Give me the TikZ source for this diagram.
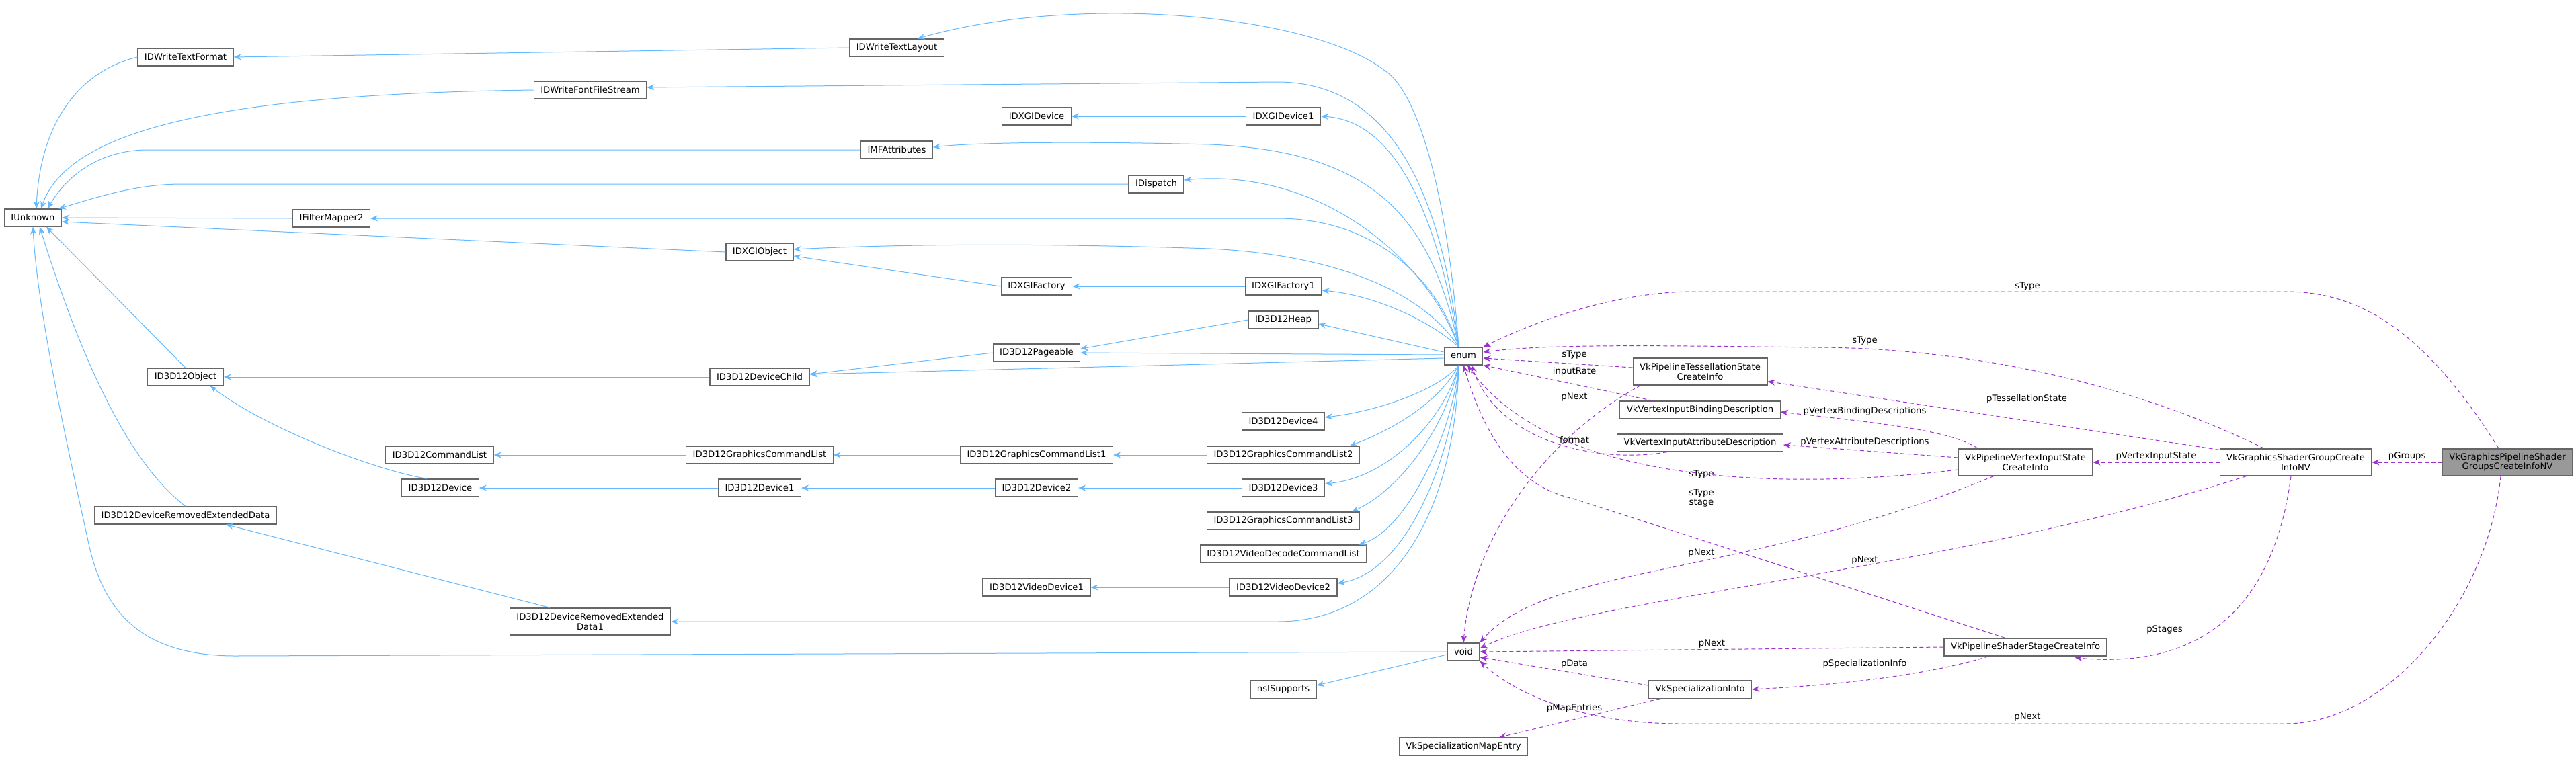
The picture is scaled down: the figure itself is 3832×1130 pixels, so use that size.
\documentclass[tikz,border=0pt]{standalone}
\usepackage{fontspec}
\setmainfont{DejaVu Sans}
\usetikzlibrary{arrows.meta, calc}
\definecolor{inhblue}{RGB}{99,184,255}
\definecolor{usepurple}{RGB}{154,50,205}
\tikzset{
  cls/.style={draw=black!60, fill=white, line width=0.6pt, font=\fontsize{6.6}{7.3}\selectfont,
    inner xsep=5pt, inner ysep=1pt, minimum height=13pt, align=center},
  cls2/.style={cls, minimum height=20pt},
  lbl/.style={font=\fontsize{6.6}{7.3}\selectfont, inner sep=1pt, align=center},
  inh/.style={draw=inhblue, line width=0.5pt, -{Stealth[length=5.5pt,width=4.5pt]}},
  use/.style={draw=usepurple, line width=0.5pt, dash pattern=on 3pt off 2pt, -{Stealth[length=5.5pt,width=4.5pt]}}
}
\begin{document}
\begin{tikzpicture}[x=0.5pt,y=-0.5pt]
\useasboundingbox (0,0) rectangle (3832,1130);

% base interfaces
\node[cls] (iunk) at (49,324) {IUnknown};
\node[cls] (fmt) at (276,85) {IDWriteTextFormat};
\node[cls] (ffs) at (878,134) {IDWriteFontFileStream};
\node[cls] (fm2) at (493,325) {IFilterMapper2};
\node[cls] (d3o) at (276,561) {ID3D12Object};
\node[cls] (cl) at (654,677) {ID3D12CommandList};
\node[cls] (dev) at (655,726) {ID3D12Device};
\node[cls] (dred) at (276,767) {ID3D12DeviceRemovedExtendedData};
\node[cls2] (dred1) at (878,925) {ID3D12DeviceRemovedExtended\\Data1};
\node[cls] (lay) at (1334,71) {IDWriteTextLayout};
\node[cls] (dxd) at (1542,173) {IDXGIDevice};
\node[cls] (dxd1) at (1909,173) {IDXGIDevice1};
\node[cls] (imf) at (1334,223) {IMFAttributes};
\node[cls] (disp) at (1720,274) {IDispatch};
\node[cls] (dxo) at (1130,375) {IDXGIObject};
\node[cls] (fac) at (1542,426) {IDXGIFactory};
\node[cls] (fac1) at (1909,426) {IDXGIFactory1};
\node[cls] (heap) at (1909,476) {ID3D12Heap};
\node[cls] (pag) at (1542,525) {ID3D12Pageable};
\node[cls] (dch) at (1130,561) {ID3D12DeviceChild};
\node[cls] (dev4) at (1909,627) {ID3D12Device4};
\node[cls] (gcl) at (1130,677) {ID3D12GraphicsCommandList};
\node[cls] (gcl1) at (1542,677) {ID3D12GraphicsCommandList1};
\node[cls] (gcl2) at (1909,677) {ID3D12GraphicsCommandList2};
\node[cls] (dev1) at (1130,726) {ID3D12Device1};
\node[cls] (dev2) at (1542,726) {ID3D12Device2};
\node[cls] (dev3) at (1909,726) {ID3D12Device3};
\node[cls] (gcl3) at (1909,775) {ID3D12GraphicsCommandList3};
\node[cls] (vdcl) at (1909,824) {ID3D12VideoDecodeCommandList};
\node[cls] (vd1) at (1542,874) {ID3D12VideoDevice1};
\node[cls] (vd2) at (1909,874) {ID3D12VideoDevice2};
\node[cls] (nss) at (1909,1026) {nsISupports};

% vulkan side
\node[cls] (enum) at (2177,530) {enum};
\node[cls] (void) at (2177,970) {void};
\node[cls] (map) at (2177,1111) {VkSpecializationMapEntry};
\node[cls] (spec) at (2529,1026) {VkSpecializationInfo};
\node[cls2] (tess) at (2529,553) {VkPipelineTessellationState\\CreateInfo};
\node[cls] (bind) at (2529,610) {VkVertexInputBindingDescription};
\node[cls] (attr) at (2529,659) {VkVertexInputAttributeDescription};
\node[cls2] (pvis) at (3013,688) {VkPipelineVertexInputState\\CreateInfo};
\node[cls] (sss) at (3013,963) {VkPipelineShaderStageCreateInfo};
\node[cls2] (gsg) at (3415,688) {VkGraphicsShaderGroupCreate\\InfoNV};
\node[cls2, fill=black!40] (gray) at (3730,688) {VkGraphicsPipelineShader\\GroupsCreateInfoNV};

% inheritance to IUnknown
\draw[inh] (fmt.west) .. controls (120,105) and (60,180) .. ($(iunk.north)+(5,0)$);
\draw[inh] (ffs.west) .. controls (300,140) and (100,200) .. ($(iunk.north)+(12,0)$);
\draw[inh] (imf.west) -- (220,223) .. controls (150,223) and (100,260) .. ($(iunk.north)+(22,0)$);
\draw[inh] (disp.west) -- (270,274) .. controls (200,274) and (140,295) .. ($(iunk.north east)+(-5,0)$);
\draw[inh] (fm2.west) -- (iunk.east);
\draw[inh] (dxo.west) -- ($(iunk.east)+(0,6)$);
\draw[inh] (d3o.north) -- ($(iunk.south)+(20,0)$);
\draw[inh] (dred.north) .. controls (180,680) and (110,500) .. ($(iunk.south)+(10,0)$);
\draw[inh] (void.west) -- (350,976) .. controls (200,976) and (150,900) .. (130,800) .. controls (90,620) and (55,450) .. (iunk.south);

% other inheritance
\draw[inh] (lay.west) -- (fmt.east);
\draw[inh] (dxd1.west) -- (dxd.east);
\draw[inh] (fac.west) -- ($(dxo.east)+(0,6)$);
\draw[inh] (fac1.west) -- (fac.east);
\draw[inh] (pag.west) -- ($(dch.east)+(0,-4)$);
\draw[inh] (heap.west) -- ($(pag.east)+(0,-6)$);
\draw[inh] (dch.west) -- (d3o.east);
\draw[inh] ($(dev.north)+(-20,0)$) .. controls (560,700) and (400,640) .. ($(d3o.south east)+(-20,0)$);
\draw[inh] (gcl.west) -- (cl.east);
\draw[inh] (gcl1.west) -- (gcl.east);
\draw[inh] (gcl2.west) -- (gcl1.east);
\draw[inh] (dev1.west) -- (dev.east);
\draw[inh] (dev2.west) -- (dev1.east);
\draw[inh] (dev3.west) -- (dev2.east);
\draw[inh] (vd2.west) -- (vd1.east);
\draw[inh] ($(dred1.north)+(-60,0)$) -- ($(dred.south)+(60,0)$);
\draw[inh] ($(void.west)+(0,4)$) -- ($(nss.east)+(0,-6)$);

% inheritance from enum
\draw[inh] ($(enum.north)+(-7,0)$) .. controls (2150,250) and (2100,130) .. (2060,105) .. controls (1950,20) and (1600,-10) .. ($(lay.north east)+(-40,0)$);
\draw[inh] ($(enum.north)+(-7,0)$) .. controls (2140,250) and (2050,122) .. (1900,122) -- ($(ffs.east)+(0,-4)$);
\draw[inh] ($(enum.north)+(-7,0)$) .. controls (2140,330) and (2080,180) .. (dxd1.east);
\draw[inh] ($(enum.north)+(-7,0)$) .. controls (2130,330) and (2050,225) .. (1800,215) .. controls (1600,210) and (1450,212) .. ($(imf.east)+(0,-4)$);
\draw[inh] ($(enum.north)+(-7,0)$) .. controls (2120,380) and (1960,250) .. ($(disp.east)+(0,-6)$);
\draw[inh] ($(enum.north)+(-7,0)$) .. controls (2140,420) and (2050,325) .. (1900,325) -- (fm2.east);
\draw[inh] ($(enum.north)+(-7,0)$) .. controls (2120,440) and (2000,380) .. (1800,370) .. controls (1500,360) and (1300,365) .. ($(dxo.east)+(0,-4)$);
\draw[inh] ($(enum.north)+(-7,0)$) .. controls (2130,480) and (2050,440) .. ($(fac1.east)+(0,6)$);
\draw[inh] ($(enum.west)+(0,-6)$) -- ($(heap.east)+(0,6)$);
\draw[inh] ($(enum.west)+(0,-2)$) -- (pag.east);
\draw[inh] ($(enum.west)+(0,3)$) -- ($(dch.east)+(0,-4)$);
\draw[inh] ($(enum.south)+(-7,0)$) .. controls (2140,580) and (2050,612) .. ($(dev4.east)+(0,-6)$);
\draw[inh] ($(enum.south)+(-7,0)$) .. controls (2140,600) and (2070,640) .. ($(gcl2.north east)+(-15,0)$);
\draw[inh] ($(enum.south)+(-7,0)$) .. controls (2150,620) and (2070,710) .. ($(dev3.east)+(0,-6)$);
\draw[inh] ($(enum.south)+(-7,0)$) .. controls (2150,640) and (2080,730) .. ($(gcl3.north east)+(-12,0)$);
\draw[inh] ($(enum.south)+(-7,0)$) .. controls (2160,650) and (2090,790) .. ($(vdcl.north east)+(-12,0)$);
\draw[inh] ($(enum.south)+(-7,0)$) .. controls (2165,660) and (2100,850) .. ($(vd2.east)+(0,-6)$);
\draw[inh] ($(enum.south)+(-7,0)$) .. controls (2165,750) and (2080,925) .. (1900,925) -- (dred1.east);

% member references
\draw[use] (gray.west) -- (gsg.east) node[lbl, midway, above] {pGroups};
\draw[use] ($(gray.north)+(-13,0)$) .. controls (3600,480) and (3500,434) .. (3400,434) -- (2520,434) .. controls (2400,434) and (2280,480) .. (enum.north east);
\node[lbl] (l1) at (3016,426) {sType};
\draw[use] ($(gsg.north)+(-47,0)$) .. controls (3150,560) and (2900,517) .. (2700,517) .. controls (2450,514) and (2300,512) .. ($(enum.east)+(0,-6)$);
\node[lbl] (l2) at (2774,507) {sType};
\draw[use] ($(gsg.north west)+(0,2)$) -- ($(tess.south east)+(0,-6)$);
\node[lbl] (l3) at (3015,594) {pTessellationState};
\draw[use] (gsg.west) -- (pvis.east) node[lbl, midway, above] {pVertexInputState};
\draw[use] ($(gsg.south west)+(40,0)$) .. controls (2900,850) and (2350,890) .. ($(void.east)+(0,-5)$);
\node[lbl] (l4) at (2774,834) {pNext};
\draw[use] ($(gsg.south)+(-7,0)$) .. controls (3380,920) and (3260,995) .. ($(sss.south east)+(-48,2)$);
\node[lbl] (l5) at (3220,937) {pStages};
\draw[use] ($(gray.south)+(-10,0)$) .. controls (3700,900) and (3550,1077) .. (3400,1077) -- (2500,1077) .. controls (2350,1077) and (2250,1030) .. (void.south east);
\node[lbl] (l6) at (3016,1067) {pNext};
\draw[use] ($(tess.west)+(0,-6)$) -- ($(enum.east)+(0,3)$);
\node[lbl] (l7) at (2342,528) {sType};
\draw[use] ($(tess.south west)+(12,0)$) .. controls (2300,650) and (2190,800) .. (void.north);
\node[lbl] (l8) at (2342,591) {pNext};
\draw[use] ($(bind.north west)+(50,0)$) -- (enum.south east);
\node[lbl] (l9) at (2342,553) {inputRate};
\draw[use] ($(attr.south west)+(75,0)$) .. controls (2380,690) and (2230,660) .. ($(enum.south)+(12,0)$);
\node[lbl] (l10) at (2342,655) {format};
\draw[use] ($(pvis.north west)+(30,0)$) .. controls (2900,640) and (2800,630) .. ($(bind.east)+(0,3)$);
\node[lbl] (l11) at (2774,612) {pVertexBindingDescriptions};
\draw[use] ($(pvis.west)+(0,-7)$) -- ($(attr.east)+(0,3)$);
\node[lbl] (l12) at (2774,658) {pVertexAttributeDescriptions};
\draw[use] ($(pvis.west)+(0,11)$) .. controls (2700,725) and (2320,735) .. ($(enum.south)+(6,0)$);
\node[lbl] (l13) at (2531,706) {sType};
\draw[use] ($(sss.north)+(-30,0)$) -- (2340,742) .. controls (2240,720) and (2200,620) .. ($(enum.south)+(0,0)$);
\node[lbl] (l14) at (2531,741) {sType\\stage};
\draw[use] ($(pvis.south west)+(53,0)$) .. controls (2600,860) and (2300,840) .. (void.north east);
\node[lbl] (l15) at (2531,823) {pNext};
\draw[use] (sss.west) -- (void.east) node[lbl, pos=0.5, above] {pNext};
\draw[use] ($(sss.south west)+(67,0)$) .. controls (2850,1010) and (2700,1021) .. (spec.east);
\node[lbl] (l16) at (2774,988) {pSpecializationInfo};
\draw[use] ($(spec.west)+(0,-6)$) -- ($(void.east)+(0,8)$);
\node[lbl] (l17) at (2342,988) {pData};
\draw[use] ($(spec.south west)+(18,0)$) -- ($(map.north)+(53,0)$);
\node[lbl] (l18) at (2342,1054) {pMapEntries};
\end{tikzpicture}
\end{document}
